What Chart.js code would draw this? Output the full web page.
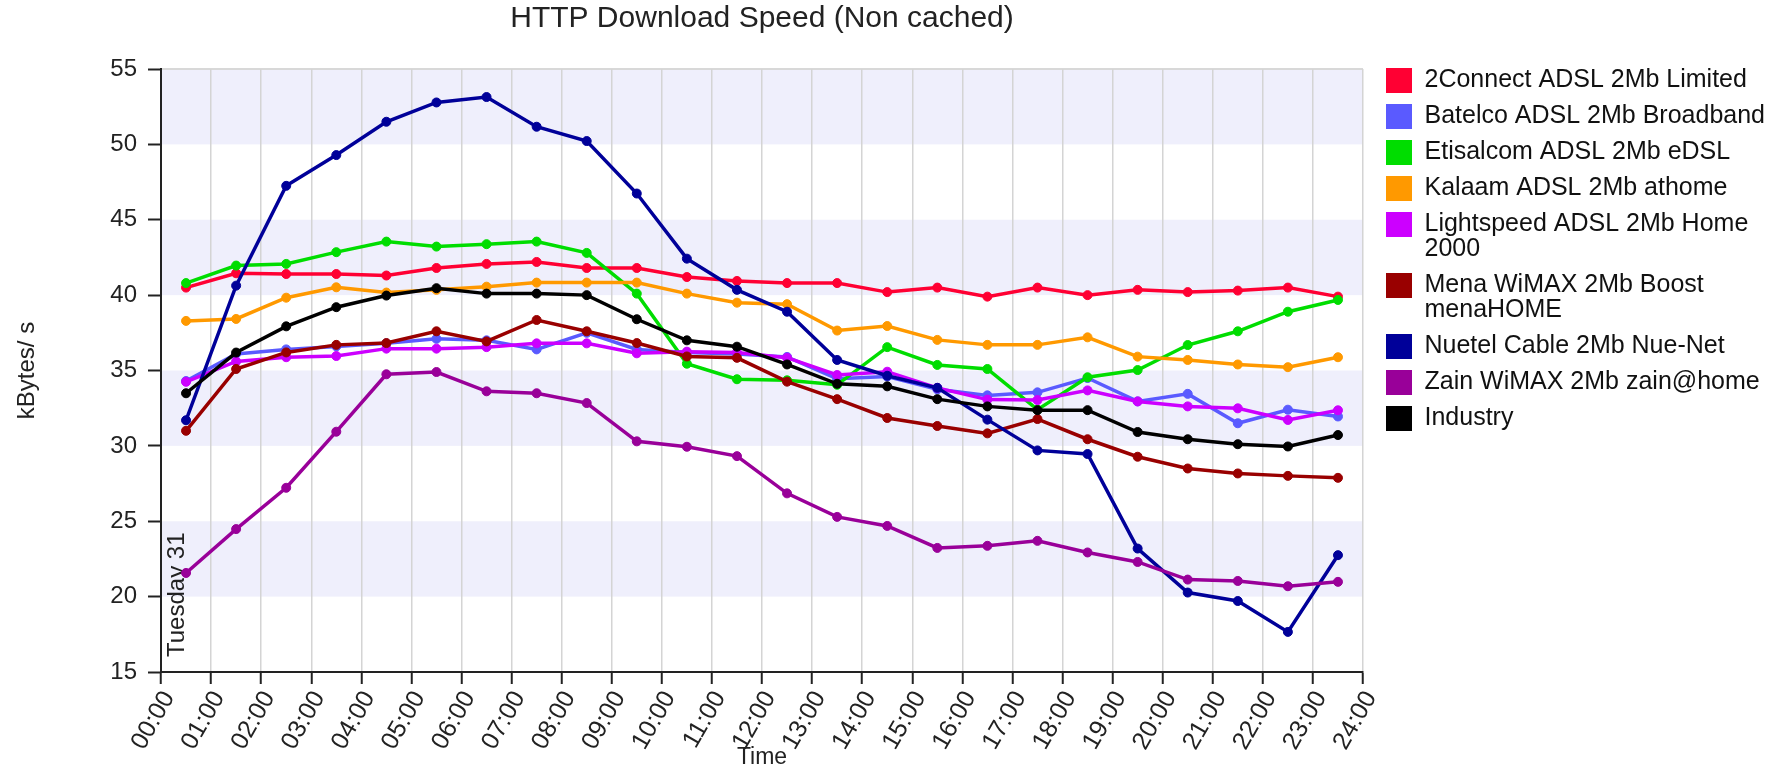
<!DOCTYPE html>
<html>
<head>
<meta charset="utf-8">
<title>HTTP Download Speed (Non cached)</title>
<script src="https://cdn.jsdelivr.net/npm/chart.js@4.4.1/dist/chart.umd.min.js"></script>
<style>
  html, body { margin: 0; padding: 0; background: #fff; }
  canvas { display: block; }
</style>
</head>
<body>
<canvas id="speedChart" width="1783" height="770"></canvas>
<script>
const chartTitle = 'HTTP Download Speed (Non cached)';
const axisTitleX = 'Time';
const axisTitleY = 'kBytes/ s';
const dayLabel = 'Tuesday 31';

// measurement times (half past each hour)
const times = ['00:30', '01:30', '02:30', '03:30', '04:30', '05:30', '06:30', '07:30',
               '08:30', '09:30', '10:30', '11:30', '12:30', '13:30', '14:30', '15:30',
               '16:30', '17:30', '18:30', '19:30', '20:30', '21:30', '22:30', '23:30'];

const tickLabels = ['00:00', '01:00', '02:00', '03:00', '04:00', '05:00', '06:00', '07:00',
                    '08:00', '09:00', '10:00', '11:00', '12:00', '13:00', '14:00', '15:00',
                    '16:00', '17:00', '18:00', '19:00', '20:00', '21:00', '22:00', '23:00', '24:00'];

const seriesNames = [
    '2Connect ADSL 2Mb Limited',
    'Batelco ADSL 2Mb Broadband',
    'Etisalcom ADSL 2Mb eDSL',
    'Kalaam ADSL 2Mb athome',
    'Lightspeed ADSL 2Mb Home\n2000',
    'Mena WiMAX 2Mb Boost\nmenaHOME',
    'Nuetel Cable 2Mb Nue-Net',
    'Zain WiMAX 2Mb zain@home',
    'Industry'
];

const seriesColors = ['#ff0033', '#5a5aff', '#00dd00', '#ff9900', '#cc00ff',
                      '#990000', '#000099', '#990099', '#000000'];

// kBytes/s
const connect2   = [40.5, 41.45, 41.4, 41.4, 41.3, 41.8, 42.07, 42.2, 41.8, 41.8, 41.2, 40.94,
                    40.8, 40.8, 40.2, 40.5, 39.9, 40.5, 40.0, 40.35, 40.2, 40.3, 40.5, 39.9];
const batelco    = [34.3, 36.1, 36.4, 36.6, 36.8, 37.1, 37.0, 36.4, 37.5, 36.4, 36.2, 36.1,
                    35.9, 34.45, 34.6, 33.75, 33.35, 33.55, 34.5, 32.95, 33.45, 31.5, 32.4, 31.95];
const etisalcom  = [40.8, 41.96, 42.07, 42.85, 43.55, 43.22, 43.38, 43.55, 42.8, 40.1, 35.45, 34.42,
                    34.35, 34.05, 36.55, 35.37, 35.1, 32.4, 34.55, 35.03, 36.69, 37.6, 38.9, 39.68];
const kalaam     = [38.29, 38.42, 39.83, 40.52, 40.17, 40.35, 40.56, 40.83, 40.83, 40.83, 40.1, 39.5,
                    39.4, 37.65, 37.95, 37.03, 36.7, 36.7, 37.2, 35.92, 35.7, 35.4, 35.22, 35.88];
const lightspeed = [34.25, 35.6, 35.88, 35.96, 36.45, 36.45, 36.55, 36.8, 36.8, 36.14, 36.25, 36.2,
                    35.85, 34.7, 34.92, 33.85, 33.07, 33.04, 33.68, 32.95, 32.62, 32.49, 31.72, 32.36];
const mena       = [31.0, 35.1, 36.2, 36.7, 36.82, 37.6, 36.93, 38.35, 37.6, 36.82, 35.93, 35.84,
                    34.26, 33.1, 31.85, 31.32, 30.83, 31.78, 30.44, 29.28, 28.5, 28.17, 28.01, 27.88];
const nuetel     = [31.7, 40.63, 47.25, 49.29, 51.5, 52.78, 53.14, 51.17, 50.22, 46.74, 42.42, 40.35,
                    38.9, 35.7, 34.65, 33.85, 31.74, 29.7, 29.46, 23.19, 20.27, 19.71, 17.66, 22.75];
const zain       = [21.57, 24.48, 27.22, 30.94, 34.75, 34.9, 33.62, 33.49, 32.84, 30.3, 29.94, 29.32,
                    26.85, 25.29, 24.69, 23.23, 23.37, 23.7, 22.93, 22.3, 21.13, 21.04, 20.69, 20.98];
const industry   = [33.49, 36.19, 37.93, 39.2, 39.97, 40.46, 40.1, 40.1, 40.0, 38.4, 37.0, 36.58,
                    35.4, 34.12, 33.95, 33.1, 32.62, 32.37, 32.37, 30.92, 30.44, 30.11, 29.96, 30.72];

const seriesValues = [connect2, batelco, etisalcom, kalaam, lightspeed, mena, nuetel, zain, industry];

const FONT = '"Liberation Sans", Arial, Helvetica, sans-serif';

function toHours(t) {
    const [h, m] = t.split(':').map(Number);
    return h + m / 60;
}

// later series are painted on top (Industry last)
const datasets = seriesNames.map((name, i) => ({
    label: name,
    data: seriesValues[i].map((v, j) => ({ x: toHours(times[j]), y: v })),
    borderColor: seriesColors[i],
    backgroundColor: seriesColors[i],
    pointBackgroundColor: seriesColors[i],
    pointBorderColor: seriesColors[i],
    order: seriesNames.length - 1 - i
}));

// shaded horizontal bands + top edge + day marker
const bandsPlugin = {
    id: 'bands',
    beforeDraw(chart) {
        const { ctx, chartArea, scales: { y } } = chart;
        const ticks = y.ticks;
        ctx.save();
        ctx.fillStyle = '#efeffc';
        for (let i = 1; i < ticks.length - 1; i += 2) {
            const top = y.getPixelForValue(ticks[i + 1].value);
            const bottom = y.getPixelForValue(ticks[i].value);
            ctx.fillRect(chartArea.left, top, chartArea.right - chartArea.left, bottom - top);
        }
        ctx.strokeStyle = '#d8d8d8';
        ctx.lineWidth = 2;
        ctx.beginPath();
        ctx.moveTo(chartArea.left, chartArea.top);
        ctx.lineTo(chartArea.right, chartArea.top);
        ctx.stroke();
        ctx.restore();
    },
    beforeDatasetsDraw(chart) {
        const { ctx, chartArea, scales: { x } } = chart;
        ctx.save();
        ctx.translate(x.getPixelForValue(0) + 23, chartArea.bottom - 15);
        ctx.rotate(-Math.PI / 2);
        ctx.font = '24px ' + FONT;
        ctx.fillStyle = '#222';
        ctx.textAlign = 'left';
        ctx.textBaseline = 'alphabetic';
        ctx.fillText(dayLabel, 0, 0);
        ctx.restore();
    }
};

new Chart(document.getElementById('speedChart'), {
    type: 'line',
    data: { datasets: datasets },
    plugins: [bandsPlugin],
    options: {
        responsive: false,
        animation: false,
        devicePixelRatio: 1,
        layout: { padding: { left: 8, right: 8, top: 0, bottom: 0 } },
        elements: {
            line: { borderWidth: 3.5, tension: 0, fill: false },
            point: { radius: 4.5, hoverRadius: 5.5, borderWidth: 1 }
        },
        plugins: {
            title: {
                display: true,
                text: chartTitle,
                fullSize: false,
                color: '#222',
                font: { size: 30, weight: 'normal', family: FONT, lineHeight: 1.2 },
                padding: { top: 1, bottom: 32 }
            },
            legend: {
                position: 'right',
                align: 'start',
                title: { display: true, text: '', font: { size: 1, lineHeight: 1 }, padding: { top: 56, bottom: 0 } },
                labels: {
                    boxWidth: 26,
                    boxHeight: 25,
                    padding: 11,
                    color: '#111',
                    font: { size: 25, family: FONT, lineHeight: 1 },
                    sort: (a, b) => a.datasetIndex - b.datasetIndex,
                    generateLabels(chart) {
                        const items = Chart.defaults.plugins.legend.labels.generateLabels(chart);
                        return items.map(it => {
                            const lines = String(it.text).split('\n');
                            return Object.assign(it, { lineWidth: 0, text: lines.length > 1 ? lines : it.text });
                        });
                    }
                }
            },
            tooltip: { enabled: true }
        },
        scales: {
            x: {
                type: 'linear',
                min: 0,
                max: 24,
                afterFit: s => { s.height = 98; },
                border: { color: '#222', width: 2 },
                grid: { color: '#d4d4d4', lineWidth: 1.5, tickLength: 12, tickColor: '#222', tickWidth: 2 },
                ticks: {
                    stepSize: 1,
                    autoSkip: false,
                    maxRotation: 60,
                    minRotation: 60,
                    padding: 2,
                    labelOffset: 8,
                    color: '#222',
                    font: { size: 25, family: FONT },
                    callback: v => tickLabels[v] ?? ''
                },
                title: {
                    display: true,
                    text: axisTitleX,
                    color: '#222',
                    font: { size: 23, family: FONT, lineHeight: 1 },
                    padding: { top: 0, bottom: 1 }
                }
            },
            y: {
                min: 15,
                max: 55,
                afterFit: s => { s.width = 153; },
                border: { color: '#222', width: 2 },
                grid: { drawOnChartArea: false, tickLength: 13, tickColor: '#222', tickWidth: 2 },
                ticks: { stepSize: 5, padding: 11, color: '#222', font: { size: 24, family: FONT } },
                title: {
                    display: true,
                    text: axisTitleY,
                    color: '#222',
                    font: { size: 24, family: FONT, lineHeight: 1.2 },
                    padding: { top: 5, bottom: 0 }
                }
            },
            // hidden spacer between plot and legend
            yGap: {
                position: 'right',
                display: false,
                afterFit: s => { s.width = 12; }
            }
        }
    }
});
</script>
</body>
</html>
